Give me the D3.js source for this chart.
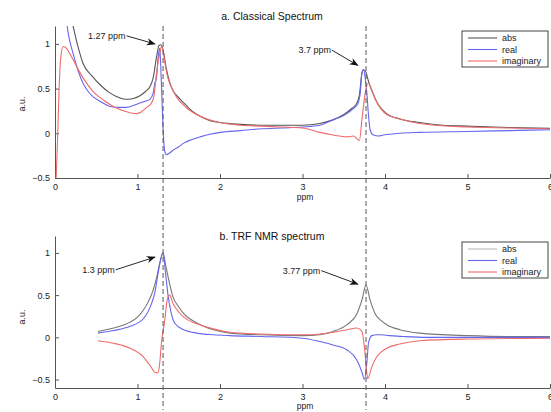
<!DOCTYPE html>
<html>
<head>
<meta charset="utf-8">
<script src="https://cdn.jsdelivr.net/npm/d3@7"></script>
<style>
  body { margin: 0; background: #fff; }
  svg { font-family: "Liberation Sans", Arial, sans-serif; }
  .tick text { font-size: 9px; fill: #222; }
  .tick line, .domain { stroke: #555; }
</style>
</head>
<body>
<div id="chart"></div>
<script>
// tick labels
var xTicks = [0, 1, 2, 3, 4, 5, 6];
var yTicks = [-0.5, 0, 0.5, 1];
var peakLines = [1.31, 3.77];
var seriesNames = ['abs', 'real', 'imaginary'];

// a. Classical spectrum
var absXa = [0.14, 0.2, 0.27, 0.34, 0.45, 0.55, 0.65, 0.75, 0.85, 0.95, 1.03, 1.1, 1.15, 1.19, 1.23, 1.26, 1.28, 1.31, 1.35, 1.39, 1.43, 1.5, 1.56, 1.66, 1.76, 1.88, 2.0, 2.25, 2.5, 2.75, 3.0, 3.21, 3.37, 3.5, 3.6, 3.66, 3.69, 3.72, 3.74, 3.77, 3.8, 3.84, 3.9, 3.96, 4.02, 4.18, 4.42, 4.7, 5.0, 5.5, 6.0];
var absYa = [1.45, 1.27, 1.0, 0.78, 0.64, 0.54, 0.46, 0.41, 0.38, 0.39, 0.42, 0.47, 0.52, 0.62, 0.85, 0.98, 0.99, 0.93, 0.72, 0.57, 0.48, 0.4, 0.34, 0.25, 0.19, 0.14, 0.12, 0.1, 0.09, 0.09, 0.09, 0.11, 0.15, 0.21, 0.28, 0.34, 0.43, 0.67, 0.71, 0.68, 0.58, 0.48, 0.35, 0.27, 0.22, 0.16, 0.12, 0.09, 0.08, 0.065, 0.055];
var realXa = [0.12, 0.16, 0.22, 0.28, 0.34, 0.4, 0.46, 0.56, 0.67, 0.77, 0.87, 0.95, 1.03, 1.1, 1.15, 1.19, 1.21, 1.23, 1.25, 1.27, 1.29, 1.31, 1.33, 1.35, 1.39, 1.43, 1.5, 1.56, 1.66, 1.76, 1.88, 2.0, 2.25, 2.5, 2.75, 3.0, 3.21, 3.37, 3.5, 3.62, 3.67, 3.7, 3.72, 3.74, 3.76, 3.78, 3.8, 3.82, 3.86, 3.92, 3.98, 4.18, 4.42, 5.0, 5.5, 6.0];
var realYa = [1.4, 1.12, 0.89, 0.7, 0.56, 0.47, 0.41, 0.35, 0.3, 0.29, 0.29, 0.31, 0.34, 0.36, 0.38, 0.45, 0.56, 0.62, 0.85, 0.95, 0.55, 0.05, -0.2, -0.24, -0.22, -0.19, -0.15, -0.11, -0.07, -0.04, -0.01, 0.01, 0.03, 0.05, 0.06, 0.07, 0.09, 0.15, 0.2, 0.28, 0.33, 0.45, 0.67, 0.71, 0.62, 0.45, 0.2, 0.04, -0.02, -0.03, -0.02, 0.0, 0.01, 0.02, 0.03, 0.04];
var imagXa = [0.01, 0.03, 0.05, 0.07, 0.1, 0.14, 0.18, 0.26, 0.34, 0.46, 0.59, 0.75, 0.91, 0.99, 1.05, 1.11, 1.17, 1.2, 1.23, 1.27, 1.29, 1.31, 1.33, 1.36, 1.39, 1.47, 1.6, 1.76, 2.0, 2.25, 2.5, 2.75, 3.0, 3.21, 3.37, 3.54, 3.62, 3.66, 3.69, 3.72, 3.76, 3.8, 3.84, 3.9, 4.02, 4.18, 4.42, 5.0, 5.5, 6.0];
var imagYa = [-0.6, -0.1, 0.5, 0.85, 0.97, 0.95, 0.89, 0.75, 0.62, 0.47, 0.37, 0.28, 0.23, 0.22, 0.24, 0.29, 0.34, 0.42, 0.67, 0.89, 0.97, 0.93, 0.8, 0.65, 0.56, 0.41, 0.28, 0.19, 0.12, 0.09, 0.08, 0.07, 0.06, 0.01, -0.02, -0.04, -0.03, -0.06, -0.08, 0.15, 0.45, 0.56, 0.48, 0.35, 0.21, 0.16, 0.11, 0.07, 0.06, 0.05];

// b. TRF NMR spectrum
var absXb = [0.52, 0.71, 0.91, 1.0, 1.07, 1.13, 1.19, 1.23, 1.27, 1.31, 1.34, 1.37, 1.43, 1.5, 1.56, 1.72, 1.92, 2.12, 2.5, 3.0, 3.21, 3.37, 3.54, 3.66, 3.72, 3.77, 3.82, 3.88, 3.95, 4.02, 4.18, 4.42, 5.0, 5.5, 6.0];
var absYb = [0.07, 0.11, 0.18, 0.24, 0.32, 0.42, 0.56, 0.7, 0.88, 1.0, 0.86, 0.72, 0.48, 0.36, 0.28, 0.17, 0.09, 0.05, 0.03, 0.02, 0.03, 0.07, 0.15, 0.28, 0.44, 0.62, 0.44, 0.28, 0.2, 0.15, 0.09, 0.05, 0.02, 0.01, 0.01];
var realXb = [0.52, 0.71, 0.91, 1.07, 1.17, 1.21, 1.25, 1.28, 1.31, 1.34, 1.37, 1.41, 1.45, 1.56, 1.72, 1.92, 2.12, 2.5, 3.0, 3.21, 3.37, 3.54, 3.66, 3.72, 3.75, 3.78, 3.8, 3.84, 3.9, 3.96, 4.05, 4.22, 4.5, 5.0, 6.0];
var realYb = [0.05, 0.08, 0.13, 0.22, 0.4, 0.53, 0.76, 0.92, 1.0, 0.76, 0.5, 0.28, 0.17, 0.09, 0.05, 0.03, 0.02, 0.01, -0.01, -0.05, -0.09, -0.15, -0.27, -0.41, -0.5, -0.3, -0.07, 0.02, 0.03, 0.03, 0.02, 0.01, 0.0, 0.0, 0.0];
var imagXb = [0.52, 0.71, 0.91, 1.07, 1.15, 1.22, 1.25, 1.27, 1.29, 1.33, 1.36, 1.39, 1.43, 1.5, 1.56, 1.72, 1.92, 2.12, 2.5, 3.0, 3.21, 3.37, 3.54, 3.66, 3.72, 3.75, 3.78, 3.79, 3.84, 3.9, 4.02, 4.18, 4.42, 5.0, 6.0];
var imagYb = [-0.04, -0.07, -0.13, -0.23, -0.33, -0.42, -0.42, -0.3, -0.07, 0.2, 0.44, 0.5, 0.4, 0.3, 0.24, 0.16, 0.1, 0.06, 0.04, 0.03, 0.04, 0.06, 0.09, 0.11, 0.07, -0.11, -0.43, -0.49, -0.35, -0.23, -0.13, -0.08, -0.04, -0.02, -0.01];

// annotations: [label, text x, text y, tip x, tip y] in data units
var notesA = [['1.27 ppm', 0.4, 1.09, 1.21, 1.0], ['3.7 ppm', 2.95, 0.93, 3.67, 0.76]];
var notesB = [['1.3 ppm', 0.33, 0.8, 1.21, 0.95], ['3.77 ppm', 2.76, 0.79, 3.67, 0.63]];

var width = 551, height = 412;
var svg = d3.select('#chart').append('svg')
    .attr('width', width)
    .attr('height', height);

svg.append('defs').append('marker')
    .attr('id', 'arrow')
    .attr('viewBox', '0 0 10 10')
    .attr('refX', 9).attr('refY', 5)
    .attr('markerWidth', 9).attr('markerHeight', 9)
    .attr('markerUnits', 'userSpaceOnUse')
    .attr('orient', 'auto')
    .append('path')
    .attr('d', 'M0,1 L10,5 L0,9 L3,5 Z')
    .attr('fill', '#111');

var x = d3.scaleLinear().domain([0, 6]).range([55, 550]);

function drawPanel(opt) {
    var y = d3.scaleLinear().domain(opt.yDomain).range(opt.yRange);
    var g = svg.append('g');

    g.append('clipPath').attr('id', opt.id + 'clip')
        .append('rect')
        .attr('x', x(0)).attr('y', opt.yRange[1])
        .attr('width', x(6) - x(0)).attr('height', opt.yRange[0] - opt.yRange[1]);

    g.append('g')
        .attr('transform', `translate(0,${opt.yRange[0]})`)
        .call(d3.axisBottom(x).tickValues(xTicks).tickSize(-4).tickSizeOuter(0).tickPadding(6).tickFormat(d3.format('d')));

    g.append('g')
        .attr('transform', `translate(${x(0)},0)`)
        .call(d3.axisLeft(y).tickValues(yTicks).tickSize(-4).tickSizeOuter(0).tickPadding(5).tickFormat(d => d === 0 || d === 1 ? d : d3.format('.1f')(d).replace('-', '\u2212')));

    var line = d3.line()
        .x(d => x(d[0]))
        .y(d => y(d[1]))
        .curve(d3.curveMonotoneX);

    var plot = g.append('g').attr('clip-path', `url(#${opt.id}clip)`);
    opt.series.forEach(function (s) {
        plot.append('path')
            .datum(d3.zip(s.xs, s.ys))
            .attr('fill', 'none')
            .attr('stroke', s.color)
            .attr('stroke-width', 1.1)
            .attr('stroke-linejoin', 'round')
            .attr('d', line);
    });

    g.selectAll('.peak').data(peakLines).enter().append('line')
        .attr('x1', d => x(d)).attr('x2', d => x(d))
        .attr('y1', opt.dashY[0]).attr('y2', opt.dashY[1])
        .attr('stroke', '#555')
        .attr('stroke-width', 1)
        .attr('stroke-dasharray', '5,3');

    opt.notes.forEach(function (n) {
        var t = g.append('text')
            .attr('x', x(n[1])).attr('y', y(n[2]))
            .attr('dy', '0.35em')
            .attr('font-size', 9)
            .attr('fill', '#222')
            .text(n[0]);
        var w = t.node().getComputedTextLength();
        g.append('line')
            .attr('x1', x(n[1]) + w + 1).attr('y1', y(n[2]))
            .attr('x2', x(n[3])).attr('y2', y(n[4]))
            .attr('stroke', '#111')
            .attr('stroke-width', 0.9)
            .attr('marker-end', 'url(#arrow)');
    });

    g.append('text')
        .attr('x', 272).attr('y', opt.titleY)
        .attr('text-anchor', 'middle')
        .attr('font-size', 10.5)
        .attr('fill', '#111')
        .text(opt.title);

    g.append('text')
        .attr('x', x(3.03)).attr('y', opt.yRange[0] + opt.ppmGap)
        .attr('text-anchor', 'middle')
        .attr('font-size', 8.5)
        .attr('fill', '#222')
        .text('ppm');

    g.append('text')
        .attr('transform', `translate(25,${opt.labelY}) rotate(-90)`)
        .attr('text-anchor', 'middle')
        .attr('font-size', 9)
        .attr('fill', '#222')
        .text('a.u.');

    // legend
    var lg = g.append('g').attr('transform', `translate(462,${opt.legendY})`);
    lg.append('rect')
        .attr('width', 86).attr('height', 36)
        .attr('fill', '#fff')
        .attr('stroke', '#444')
        .attr('stroke-width', 1);
    opt.series.forEach(function (s, i) {
        var ly = 7 + i * 11.5;
        lg.append('line')
            .attr('x1', 6).attr('x2', 35)
            .attr('y1', ly).attr('y2', ly)
            .attr('stroke', s.legendColor || s.color)
            .attr('stroke-width', 1.1);
        lg.append('text')
            .attr('x', 40).attr('y', ly)
            .attr('dy', '0.35em')
            .attr('font-size', 9)
            .attr('fill', '#222')
            .text(seriesNames[i]);
    });
}

drawPanel({
    id: 'a',
    yDomain: [-0.5, 1.2],
    yRange: [178, 26],
    dashY: [26, 198],
    titleY: 20,
    labelY: 104,
    legendY: 31,
    ppmGap: 22,
    title: 'a. Classical Spectrum',
    notes: notesA,
    series: [
        { xs: absXa, ys: absYa, color: '#555' },
        { xs: realXa, ys: realYa, color: '#6666ee' },
        { xs: imagXa, ys: imagYa, color: '#ef6a6a' }
    ]
});

drawPanel({
    id: 'b',
    yDomain: [-0.6, 1.2],
    yRange: [388, 236],
    dashY: [201, 410],
    titleY: 240,
    labelY: 317,
    legendY: 242,
    ppmGap: 21,
    title: 'b. TRF NMR spectrum',
    notes: notesB,
    series: [
        { xs: absXb, ys: absYb, color: '#777', legendColor: '#bbb' },
        { xs: realXb, ys: realYb, color: '#6666ee' },
        { xs: imagXb, ys: imagYb, color: '#ef6a6a' }
    ]
});
</script>
</body>
</html>
